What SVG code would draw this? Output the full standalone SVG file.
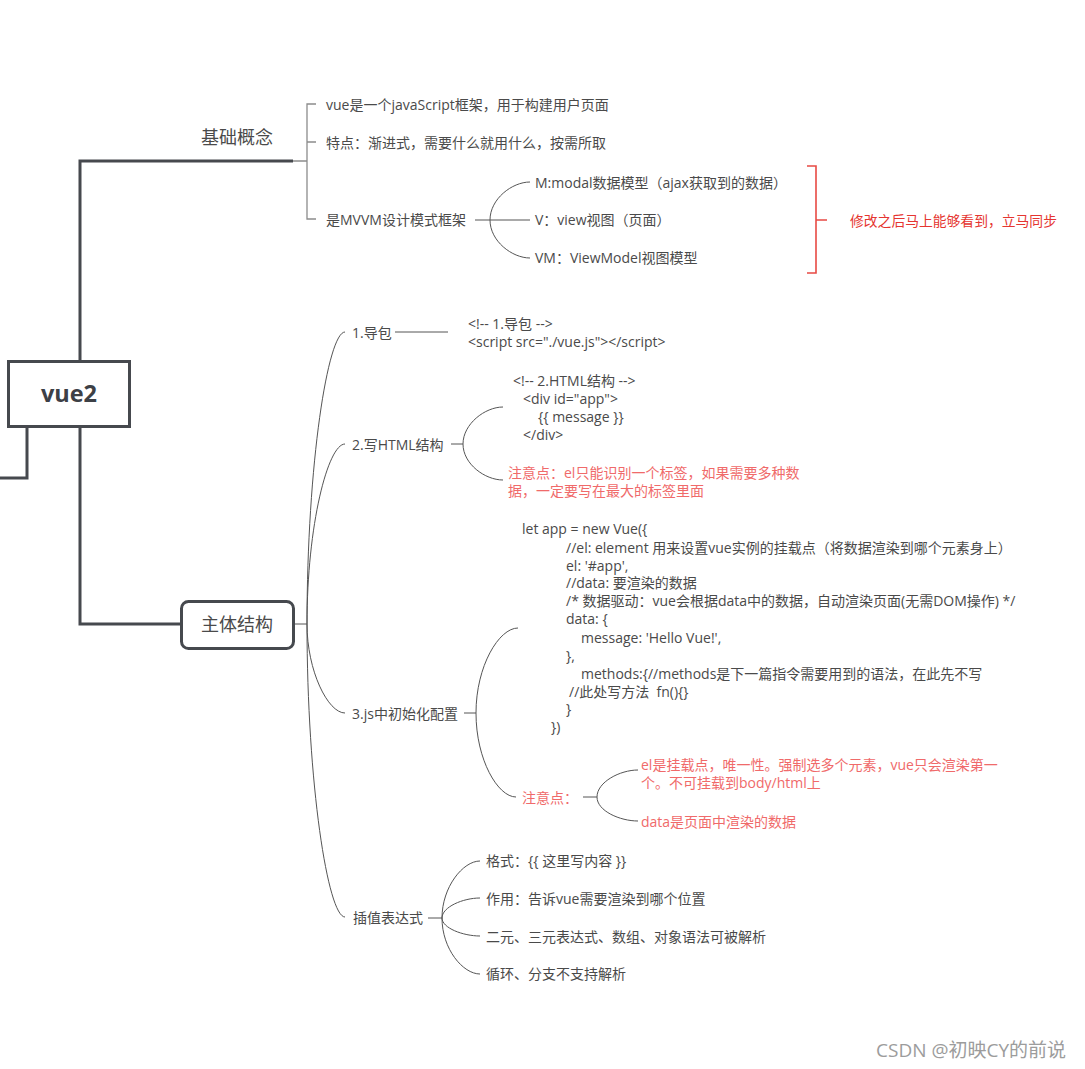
<svg xmlns="http://www.w3.org/2000/svg" width="1085" height="1069" viewBox="0 0 1085 1069">
<style>
text{font-family:"Open Sans","Noto Sans CJK SC",sans-serif;dominant-baseline:central}
.t{font-size:14px;fill:#4a4a4a}
.c{font-size:14px;fill:#4a4a4a}
.n{font-size:14px;fill:#f06a6a}
.r{font-size:13.8px;fill:#e53530}
.big{font-size:18px;fill:#4a4a4a}
.thick{stroke:#46494e;stroke-width:3;fill:none}
.thin{stroke:#555;stroke-width:1;fill:none}
.gr{stroke:#8c8c8c;stroke-width:1.3;fill:none}
.red{stroke:#e84a44;stroke-width:1.6;fill:none}
</style>
<rect width="1085" height="1069" fill="#fff"/>
<g id="connectors">
<path class="thick" d="M80 361V161H293M80 427V624H181M27 427V478H0"/>
<path class="gr" d="M293 161H307M316 104H307V219H316M307 142H316"/>
<path class="thin" d="M475 220H490M490 220C490 199 512 182 530 182M490 220H530M490 220C490 241 512 258 530 258"/>
<path class="red" d="M807 166H816V273H807M816 220H827"/>
<path class="thin" d="M294 624H307M307 624C307 463 328 332 345 332M307 624C307 525 328 444 345 444M307 624C307 671 328 713 345 713M307 624C307 784 328 917 345 917"/>
<path class="thin" d="M395 332H448"/>
<path class="thin" d="M451 444H463M463 444C463 424 485 407 503 407M463 444C463 464 485 480 503 480"/>
<path class="thin" d="M464 713H476M476 713C476 666 499 628 518 628M476 713C476 760 498 797 516 797"/>
<path class="thin" d="M583 797H597M597 797C597 782 620 770 638 770M597 797C597 811 620 821 638 821"/>
<path class="thin" d="M428 918H442M442 918C442 887 463 861 480 861M442 918C442 907 463 898 480 898M442 918C442 928 463 936 480 936M442 918C442 949 463 974 480 974"/>
</g>
<g id="root">
<rect x="8.5" y="361.5" width="121" height="65" fill="#fff" stroke="#46494e" stroke-width="3"/>
<text x="69" y="393" text-anchor="middle" style="font-size:23.5px;font-weight:bold;fill:#3d4046">vue2</text>
</g>
<g id="basic">
<text class="big" x="201" y="137">基础概念</text>
</g>
<g id="basic-1"><text class="t" x="326" y="104">vue是一个javaScript框架，用于构建用户页面</text></g>
<g id="basic-2"><text class="t" x="326" y="142">特点：渐进式，需要什么就用什么，按需所取</text></g>
<g id="basic-3"><text class="t" x="326" y="219">是MVVM设计模式框架</text></g>
<g id="mvvm-m"><text class="t" x="535" y="182">M:modal数据模型（ajax获取到的数据）</text></g>
<g id="mvvm-v"><text class="t" x="535" y="219">V：view视图（页面）</text></g>
<g id="mvvm-vm"><text class="t" x="535" y="257">VM：ViewModel视图模型</text></g>
<g id="sync-note"><text class="r" x="850" y="220">修改之后马上能够看到，立马同步</text></g>
<g id="main">
<rect x="181.5" y="601.5" width="112" height="47" rx="7" fill="#fff" stroke="#46494e" stroke-width="3"/>
<text class="big" x="237" y="624" text-anchor="middle">主体结构</text>
</g>
<g id="step1"><text class="t" x="352" y="332">1.导包</text></g>
<g id="step1-code">
<text class="c" x="468" y="323">&lt;!-- 1.导包 --&gt;</text>
<text class="c" x="468" y="341">&lt;script src="./vue.js"&gt;&lt;/script&gt;</text>
</g>
<g id="step2"><text class="t" x="352" y="444">2.写HTML结构</text></g>
<g id="step2-code">
<text class="c" x="513" y="380">&lt;!-- 2.HTML结构 --&gt;</text>
<text class="c" x="523" y="398">&lt;div id="app"&gt;</text>
<text class="c" x="538" y="416">{{ message }}</text>
<text class="c" x="523" y="434">&lt;/div&gt;</text>
</g>
<g id="step2-note">
<text class="n" x="508" y="472">注意点：el只能识别一个标签，如果需要多种数</text>
<text class="n" x="508" y="490">据，一定要写在最大的标签里面</text>
</g>
<g id="step3"><text class="t" x="352" y="713">3.js中初始化配置</text></g>
<g id="step3-code">
<text class="c" x="522" y="528">let app = new Vue({</text>
<text class="c" x="566" y="547">//el: element 用来设置vue实例的挂载点（将数据渲染到哪个元素身上）</text>
<text class="c" x="566" y="565">el: '#app',</text>
<text class="c" x="566" y="582">//data: 要渲染的数据</text>
<text class="c" x="566" y="600">/* 数据驱动：vue会根据data中的数据，自动渲染页面(无需DOM操作) */</text>
<text class="c" x="566" y="618">data: {</text>
<text class="c" x="581" y="637">message: 'Hello Vue!',</text>
<text class="c" x="566" y="655">},</text>
<text class="c" x="581" y="673">methods:{//methods是下一篇指令需要用到的语法，在此先不写</text>
<text class="c" x="569" y="691" xml:space="preserve">//此处写方法  fn(){}</text>
<text class="c" x="566" y="708">}</text>
<text class="c" x="551" y="726">})</text>
</g>
<g id="step3-note"><text class="n" x="522" y="797">注意点：</text></g>
<g id="step3-note-1">
<text class="n" x="641" y="764">el是挂载点，唯一性。强制选多个元素，vue只会渲染第一</text>
<text class="n" x="641" y="782">个。不可挂载到body/html上</text>
</g>
<g id="step3-note-2"><text class="n" x="641" y="821">data是页面中渲染的数据</text></g>
<g id="step4"><text class="t" x="353" y="917">插值表达式</text></g>
<g id="step4-1"><text class="t" x="486" y="860">格式：{{ 这里写内容 }}</text></g>
<g id="step4-2"><text class="t" x="486" y="898">作用：告诉vue需要渲染到哪个位置</text></g>
<g id="step4-3"><text class="t" x="486" y="936">二元、三元表达式、数组、对象语法可被解析</text></g>
<g id="step4-4"><text class="t" x="486" y="973">循环、分支不支持解析</text></g>
<text x="876" y="1050" style="font-size:19px;fill:#9c9c9c">CSDN @初映CY的前说</text>
</svg>
